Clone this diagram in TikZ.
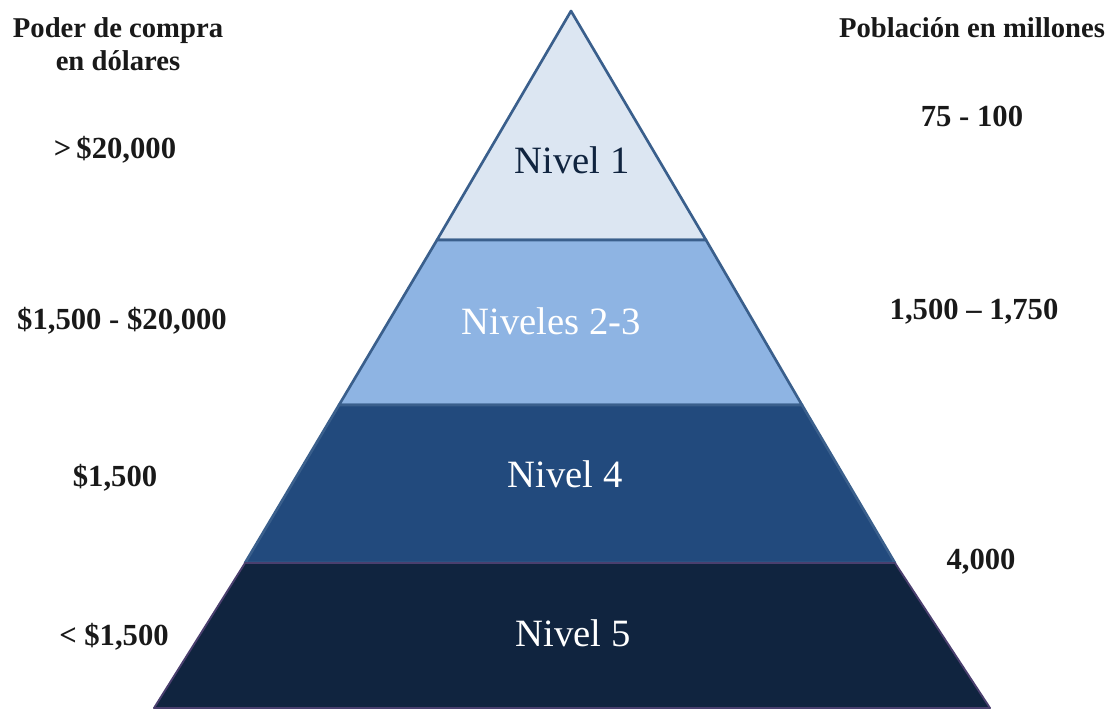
\documentclass[tikz,border=0pt]{standalone}
\usepackage{fontspec}
\setmainfont{Liberation Serif}
\usetikzlibrary{positioning}
\definecolor{lvlone}{HTML}{DCE6F2}
\definecolor{lvltwo}{HTML}{8EB4E3}
\definecolor{lvlfour}{HTML}{224A7D}
\definecolor{lvlfive}{HTML}{10243F}
\definecolor{edgeblue}{HTML}{3A5F8C}
\definecolor{edgepurple}{HTML}{4A3F6E}
\tikzstyle{level} = [draw=edgeblue, line width=2pt, line join=round]
\tikzstyle{levellabel} = [font=\fontsize{29}{32}\selectfont, text=white]
\tikzstyle{sidelabel} = [font=\bfseries\fontsize{23}{26}\selectfont, text=black!90, align=center]
\tikzstyle{sidehead} = [font=\bfseries\fontsize{21.5}{24.5}\selectfont, text=black!90, align=center]

\begin{document}
\begin{tikzpicture}[x=0.75pt, y=-0.75pt]
\useasboundingbox (0,0) rectangle (1120,711);

\coordinate (apex) at (571,11);

\path[level, fill=lvlone] (apex) -- (437,240) -- (706,240) -- cycle;
\path[level, fill=lvltwo] (437,240) -- (339,405) -- (802,405) -- (706,240) -- cycle;
\path[level, fill=lvlfour] (339,405) -- (245,563) -- (895,563) -- (802,405) -- cycle;
\path[level, draw=edgepurple, line width=1.4pt, fill=lvlfive] (245,563) -- (154,708) -- (990,708) -- (895,563) -- cycle;

\node (nivel1) [levellabel, text=lvlfive] at (572,160) {Nivel 1};
\node (nivel23) [levellabel] at (551,321) {Niveles 2-3};
\node (nivel4) [levellabel] at (565,474) {Nivel 4};
\node (nivel5) [levellabel] at (573,633) {Nivel 5};

\node (poder) [sidehead] at (118,44) {Poder de compra\\en dólares};
\node (p1) [sidelabel] at (115,150) {>\,\$20,000};
\node (p23) [sidelabel] at (122,321) {\$1,500 - \$20,000};
\node (p4) [sidelabel] at (115,478) {\$1,500};
\node (p5) [sidelabel] at (114,637) {< \$1,500};

\node (poblacion) [sidehead] at (972,28) {Población en millones};
\node (n1) [sidelabel] at (972,116) {75 - 100};
\node (n23) [sidelabel] at (974,312) {1,500 – 1,750};
\node (n5) [sidelabel] at (981,562) {4,000};

\end{tikzpicture}
\end{document}
